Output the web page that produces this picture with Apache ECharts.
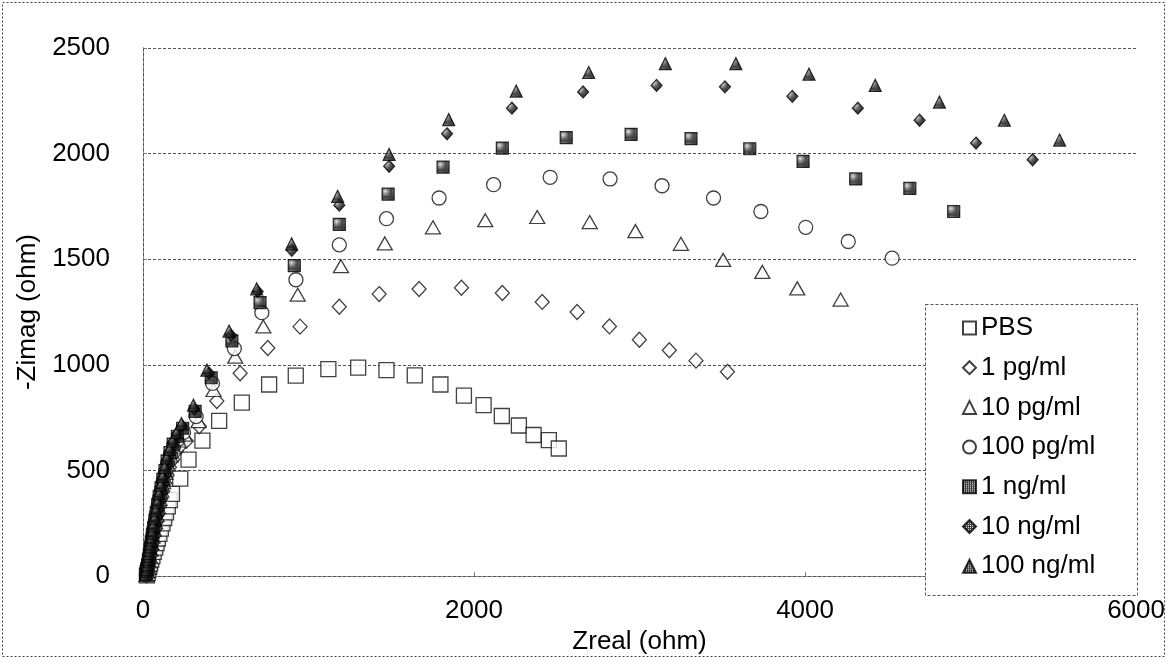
<!DOCTYPE html>
<html>
<head>
<meta charset="utf-8">
<script src="https://cdn.jsdelivr.net/npm/echarts@6/dist/echarts.min.js"></script>
<style>
html, body { margin: 0; padding: 0; background: #fff; }
#graph { width: 1168px; height: 660px; }
</style>
</head>
<body>
<div id="graph"></div>
<script>
// Nyquist data: [Zreal, -Zimag] in ohm
var pbs = [[24,3],[28,14],[32,28],[38,44],[43,60],[50,78],[57,95],[65,115],[74,135],[82,156],[90,178],[99,200],[108,225],[118,250],[128,275],[139,302],[150,330],[162,360],[175,389],[225,461],[275,551],[359,641],[460,735],[597,821],[762,907],[923,949],[1120,980],[1300,987],[1471,975],[1642,950],[1797,907],[1939,854],[2058,809],[2168,758],[2271,713],[2360,668],[2452,644],[2512,604]];
var pg1 = [[22,4],[26,24],[31,45],[36,70],[42,95],[48,125],[55,155],[62,188],[70,220],[79,255],[88,290],[98,328],[108,365],[120,402],[132,440],[146,478],[160,515],[180,552],[200,590],[228,618],[262,640],[340,709],[446,829],[587,960],[754,1080],[949,1181],[1186,1275],[1427,1335],[1668,1359],[1924,1365],[2171,1340],[2412,1298],[2623,1250],[2818,1182],[2999,1119],[3180,1069],[3341,1020],[3531,967]];
var pg10 = [[20,4],[25,24],[30,45],[35,70],[40,95],[46,125],[52,155],[59,188],[66,220],[74,255],[82,290],[91,328],[100,365],[111,405],[122,445],[135,488],[148,530],[166,570],[185,610],[215,642],[250,670],[335,734],[426,881],[557,1039],[727,1182],[935,1332],[1196,1467],[1461,1575],[1752,1651],[2068,1685],[2382,1700],[2699,1676],[2975,1633],[3250,1573],[3505,1497],[3742,1440],[3953,1362],[4215,1309]];
var pg100 = [[20,6],[25,28],[30,50],[35,75],[40,100],[46,130],[52,160],[59,192],[66,225],[74,260],[82,295],[91,332],[100,370],[111,410],[122,450],[135,492],[148,535],[166,575],[185,615],[212,648],[245,680],[321,755],[420,912],[552,1077],[718,1247],[924,1403],[1186,1568],[1471,1692],[1789,1790],[2118,1853],[2460,1888],[2822,1880],[3136,1848],[3447,1790],[3733,1726],[4004,1651],[4261,1584],[4526,1505]];
var ng1 = [[18,6],[23,28],[28,50],[33,76],[38,102],[44,132],[50,162],[57,195],[64,228],[72,264],[80,300],[89,338],[98,378],[109,418],[120,458],[133,500],[146,545],[163,585],[182,625],[208,662],[240,700],[315,780],[412,939],[537,1114],[707,1295],[914,1470],[1186,1665],[1481,1808],[1813,1936],[2171,2026],[2557,2076],[2949,2091],[3311,2071],[3666,2023],[3988,1963],[4306,1880],[4633,1835],[4898,1726]];
var ng10 = [[18,8],[23,30],[28,52],[32,78],[37,104],[43,134],[49,165],[56,198],[63,232],[71,268],[79,305],[88,344],[97,383],[108,424],[119,465],[132,508],[145,552],[162,592],[180,632],[205,672],[236,712],[311,791],[400,960],[532,1140],[693,1347],[899,1542],[1186,1756],[1487,1940],[1837,2094],[2229,2215],[2659,2292],[3103,2323],[3516,2316],[3923,2271],[4319,2215],[4692,2158],[5033,2050],[5375,1971]];
var ng100 = [[17,10],[22,33],[27,55],[31,80],[36,108],[42,138],[48,170],[55,203],[62,238],[70,274],[78,312],[87,350],[96,390],[107,430],[118,472],[131,515],[144,560],[160,600],[178,640],[203,680],[232,722],[305,809],[386,975],[520,1160],[687,1360],[898,1573],[1176,1798],[1487,1996],[1847,2161],[2255,2296],[2693,2384],[3156,2426],[3582,2426],[4024,2376],[4424,2323],[4812,2244],[5204,2158],[5538,2064]];

var seriesNames = ['PBS', '1 pg/ml', '10 pg/ml', '100 pg/ml', '1 ng/ml', '10 ng/ml', '100 ng/ml'];
var xTicks = [0, 2000, 4000, 6000];
var yTicks = [0, 500, 1000, 1500, 2000, 2500];

// dithered fill for the solid markers
function makePattern() {
    var c = document.createElement('canvas');
    c.width = 2; c.height = 2;
    var ctx = c.getContext('2d');
    ctx.fillStyle = '#111';
    ctx.fillRect(0, 0, 2, 2);
    ctx.fillStyle = '#d8d8d8';
    ctx.fillRect(1, 1, 1, 1);
    return {image: c, repeat: 'repeat'};
}
var dots = makePattern();

var font = '"Liberation Sans", Arial, sans-serif';
var dotted = {color: '#555', width: 1, type: [3, 2]};

function openSeries(name, data, symbol, size) {
    return {
        name: name, type: 'scatter', data: data,
        symbol: symbol, symbolSize: size,
        itemStyle: {color: '#fff', borderColor: '#111', borderWidth: 1.3},
        emphasis: {disabled: true}
    };
}
function filledSeries(name, data, symbol, size) {
    return {
        name: name, type: 'scatter', data: data,
        symbol: symbol, symbolSize: size,
        itemStyle: {color: dots, borderColor: '#000', borderWidth: 1.2},
        emphasis: {disabled: true}
    };
}

var myChart = echarts.init(document.getElementById('graph'));

var option = {
    backgroundColor: '#fff',
    animation: false,
    textStyle: {fontFamily: font, color: '#000'},
    grid: {left: 143, right: 30, top: 48, bottom: 58},
    graphic: [
        {type: 'rect', z: 0, silent: true,
         shape: {x: 2.5, y: 2.5, width: 1162, height: 654},
         style: {fill: null, stroke: '#444', lineWidth: 1, lineDash: [2, 2]}},
        {type: 'rect', z: 10, silent: true,
         shape: {x: 925.5, y: 304.5, width: 212, height: 291},
         style: {fill: '#fff', stroke: '#555', lineWidth: 1, lineDash: [3, 2]}}
    ],
    legend: {
        z: 20,
        orient: 'vertical',
        left: 962, top: 315,
        padding: 0,
        itemWidth: 13, itemHeight: 13,
        itemGap: 13.7,
        data: seriesNames,
        textStyle: {fontFamily: font, fontSize: 26, lineHeight: 26, color: '#000'}
    },
    xAxis: [{
        type: 'value', min: 0, max: 6000, interval: 2000,
        name: 'Zreal (ohm)', nameLocation: 'middle', nameGap: 22,
        nameTextStyle: {fontFamily: font, fontSize: 26, color: '#000', verticalAlign: 'top'},
        axisLine: {show: true, lineStyle: dotted},
        axisTick: {show: true, inside: true, length: 4, lineStyle: {color: '#777'}},
        axisLabel: {fontFamily: font, fontSize: 26, color: '#000', margin: 22,
            customValues: xTicks, formatter: function (v) { return String(v); }},
        splitLine: {show: false}
    }, {
        type: 'value', min: 0, max: 6000, position: 'top',
        axisLine: {show: true, lineStyle: dotted},
        axisTick: {show: false}, axisLabel: {show: false}, splitLine: {show: false}
    }],
    yAxis: [{
        type: 'value', min: 0, max: 2500, interval: 500,
        name: '-Zimag (ohm)', nameLocation: 'middle', nameGap: 102,
        nameTextStyle: {fontFamily: font, fontSize: 26, color: '#000'},
        axisLine: {show: true, lineStyle: dotted},
        axisTick: {show: true, inside: true, length: 4, lineStyle: {color: '#777'}},
        axisLabel: {fontFamily: font, fontSize: 26, color: '#000', margin: 33,
            customValues: yTicks, formatter: function (v) { return String(v); }},
        splitLine: {show: true, lineStyle: dotted}
    }, {
        type: 'value', min: 0, max: 2500, position: 'right',
        axisLine: {show: true, lineStyle: dotted},
        axisTick: {show: false}, axisLabel: {show: false}, splitLine: {show: false}
    }],
    series: [
        openSeries(seriesNames[0], pbs, 'rect', 15),
        openSeries(seriesNames[1], pg1, 'diamond', [14, 15]),
        openSeries(seriesNames[2], pg10, 'triangle', [15, 13]),
        openSeries(seriesNames[3], pg100, 'circle', 14),
        filledSeries(seriesNames[4], ng1, 'rect', 12),
        filledSeries(seriesNames[5], ng10, 'diamond', [11, 12]),
        filledSeries(seriesNames[6], ng100, 'triangle', [12, 12])
    ]
};

myChart.setOption(option);
</script>
</body>
</html>
